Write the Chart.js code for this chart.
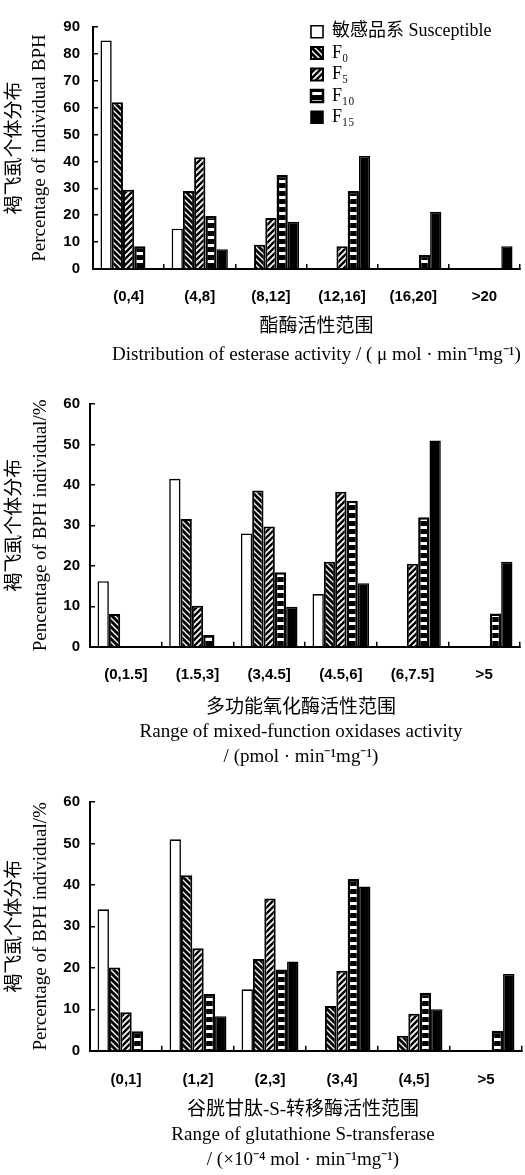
<!DOCTYPE html>
<html><head><meta charset="utf-8">
<script src="https://cdn.jsdelivr.net/npm/chart.js@4.4.0/dist/chart.umd.min.js"></script>
<style>
html,body{margin:0;padding:0;background:#fff;}
#wrap{position:relative;width:525px;height:1175px;background:#fff;}
canvas{position:absolute;left:0;}
</style></head><body>
<div id="wrap">
<canvas id="c1" width="525" height="378" style="top:0px"></canvas>
<canvas id="c2" width="525" height="400" style="top:378px"></canvas>
<canvas id="c3" width="525" height="397" style="top:778px"></canvas>
</div>
<script>
// ---------- data ----------
const seriesNames = ['敏感品系 Susceptible', 'F₀', 'F₅', 'F₁₀', 'F₁₅'];

// Chart 1: esterase
const estCategories = ['(0,4]', '(4,8]', '(8,12]', '(12,16]', '(16,20]', '>20'];
const estSusceptible = [85, 15, 0, 0, 0, 0];
const estF0  = [62, 29, 9, 0, 0, 0];
const estF5  = [29.5, 41.6, 19, 8.5, 0, 0];
const estF10 = [8.5, 19.7, 35, 29, 5.3, 0];
const estF15 = [0, 7.3, 17.6, 42, 21.3, 8.5];
const estYMax = 90;
const estYTitle = ['褐飞虱个体分布', 'Percentage of individual BPH'];
const estXTitle = ['酯酶活性范围', 'Distribution of esterase activity / ( μ mol · min⁻¹mg⁻¹)'];

// Chart 2: mixed-function oxidases
const mfoCategories = ['(0,1.5]', '(1.5,3]', '(3,4.5]', '(4.5,6]', '(6,7.5]', '>5'];
const mfoSusceptible = [16.2, 41.5, 28, 13, 0, 0];
const mfoF0  = [8.1, 31.6, 38.6, 21, 0, 0];
const mfoF5  = [0, 10.1, 29.7, 38.3, 20.5, 0];
const mfoF10 = [0, 2.9, 18.4, 36.1, 32, 8.2];
const mfoF15 = [0, 0, 9.9, 15.7, 51, 21];
const mfoYMax = 60;
const mfoYTitle = ['褐飞虱个体分布', 'Pencentage of BPH individual/%'];
const mfoXTitle = ['多功能氧化酶活性范围', 'Range of mixed-function oxidases activity', '/ (pmol · min⁻¹mg⁻¹)'];

// Chart 3: glutathione S-transferase
const gstCategories = ['(0,1]', '(1,2]', '(2,3]', '(3,4]', '(4,5]', '>5'];
const gstSusceptible = [34.1, 51, 14.8, 0, 0, 0];
const gstF0  = [20.1, 42.3, 22.1, 10.8, 3.6, 0];
const gstF5  = [9.3, 24.7, 36.7, 19.3, 8.9, 0];
const gstF10 = [4.7, 13.7, 19.6, 41.4, 14, 4.8];
const gstF15 = [0, 8.3, 21.5, 39.6, 10, 18.5];
const gstYMax = 60;
const gstYTitle = ['褐飞虱个体分布', 'Percentage of BPH individual/%'];
const gstXTitle = ['谷胱甘肽-S-转移酶活性范围', 'Range of glutathione S-transferase', '/ (×10⁻⁴ mol · min⁻¹mg⁻¹)'];

// ---------- styling ----------
const SERIF = '"Liberation Serif", "Noto Sans CJK SC", serif';
const SANS = '"Liberation Sans", Arial, sans-serif';
const TITLE_SIZE = 19;

function makePattern(ctx, type) {
  const c = document.createElement('canvas');
  const g = c.getContext('2d');
  if (type === 'back' || type === 'fwd') {
    const s = 6;
    c.width = s; c.height = s;
    g.fillStyle = '#fff'; g.fillRect(0, 0, s, s);
    g.strokeStyle = '#000';
    g.lineWidth = type === 'back' ? 2.9 : 2.5;
    g.beginPath();
    for (const k of [-s, 0, s]) {
      if (type === 'back') { g.moveTo(k - 1, -1); g.lineTo(k + s + 1, s + 1); }
      else { g.moveTo(k - 1, s + 1); g.lineTo(k + s + 1, -1); }
    }
    g.stroke();
  } else {
    c.width = 4; c.height = 8;
    g.fillStyle = '#000'; g.fillRect(0, 0, 4, 8);
    g.fillStyle = '#fff'; g.fillRect(0, 4, 4, 3);
  }
  return ctx.createPattern(c, 'repeat');
}

const legendMover = {
  id: 'legendMover',
  afterLayout(chart) {
    const lg = chart.legend;
    if (!lg || !chart.options.plugins.legend.display) return;
    lg.left = 307.6; lg.top = 19.3; lg.right = 525; lg.bottom = 160;
  }
};

// shifts the x-axis title horizontally (chart 1 title sits a little right of centre)
const titleShift = {
  id: 'titleShift',
  beforeDraw(chart, args, opts) {
    const dx = opts.dx || 0;
    if (!dx) return;
    const x = chart.scales.x;
    const orig = x.drawTitle.bind(x);
    if (!x._shifted) {
      x._shifted = true;
      x.drawTitle = function () {
        const c = this.ctx; c.save(); c.translate(dx, 0); orig(); c.restore();
      };
    }
  }
};

function buildChart(id, cats, series, yMax, yTitle, xTitle, geo, showLegend) {
  const canvas = document.getElementById(id);
  const ctx = canvas.getContext('2d');
  const pBack = makePattern(ctx, 'back');
  const pFwd = makePattern(ctx, 'fwd');
  const pHor = makePattern(ctx, 'hor');
  const fills = ['#ffffff', pBack, pFwd, pHor, '#000000'];
  const bws = [1.6, 2, 2, 2.5, 1.5];
  const datasets = series.map((d, i) => ({
    label: seriesNames[i],
    data: d,
    backgroundColor: fills[i],
    borderColor: '#000',
    borderWidth: bws[i],
    categoryPercentage: 0.79,
    barPercentage: 1.0
  }));
  return new Chart(ctx, {
    type: 'bar',
    data: { labels: cats, datasets },
    plugins: [legendMover, titleShift],
    options: {
      responsive: false,
      animation: false,
      devicePixelRatio: 1,
      layout: { padding: { left: 0, right: 525 - geo.right, top: geo.top, bottom: 0 } },
      plugins: {
        tooltip: { enabled: false },
        titleShift: { dx: geo.titleDx || 0 },
        legend: {
          display: showLegend,
          position: 'chartArea',
          align: 'start',
          labels: {
            boxWidth: 12, boxHeight: 12, padding: 3.4,
            color: '#000',
            font: { family: SERIF, size: 18, lineHeight: 1.0 }
          }
        }
      },
      scales: {
        x: {
          offset: true,
          afterFit(s) { s.height = geo.h - geo.bottom; },
          grid: { display: true, offset: true, drawOnChartArea: false, drawTicks: true, tickLength: -5, color: '#000', lineWidth: 1.5 },
          border: { display: true, color: '#000', width: 2 },
          ticks: { color: '#000', padding: geo.xTickPad, font: { family: SANS, size: 15, weight: 'bold', lineHeight: 1.2 }, maxRotation: 0, autoSkip: false },
          title: { display: true, text: xTitle, color: '#000', padding: { top: 0, bottom: geo.xTitlePb }, font: { family: SERIF, size: TITLE_SIZE, lineHeight: geo.xTitleLh / TITLE_SIZE } }
        },
        y: {
          min: 0, max: yMax,
          afterFit(s) { s.width = geo.left; },
          grid: { display: true, drawOnChartArea: false, drawTicks: true, tickLength: -5, color: '#000', lineWidth: 1.5 },
          border: { display: true, color: '#000', width: 2 },
          ticks: { stepSize: 10, color: '#000', padding: geo.yTickPad, font: { family: SANS, size: 15, weight: 'bold' } },
          title: { display: true, text: yTitle, color: '#000', padding: { top: geo.yTitlePt, bottom: 0 }, font: { family: SERIF, size: TITLE_SIZE, lineHeight: geo.yTitleLh / TITLE_SIZE } }
        }
      }
    }
  });
}

function init() {
  buildChart('c1', estCategories, [estSusceptible, estF0, estF5, estF10, estF15], estYMax, estYTitle, estXTitle,
    { h: 378, left: 93, right: 520, top: 15, bottom: 269, xTickPad: 24, xTitlePb: 9, xTitleLh: 28, yTitlePt: 2.5, yTitleLh: 25, yTickPad: 18, titleDx: 10 }, true);
  buildChart('c2', mfoCategories, [mfoSusceptible, mfoF0, mfoF5, mfoF10, mfoF15], mfoYMax, mfoYTitle, mfoXTitle,
    { h: 400, left: 90, right: 520, top: 26, bottom: 268.7, xTickPad: 24.3, xTitlePb: 8.75, xTitleLh: 24.5, yTitlePt: 2, yTitleLh: 26, yTickPad: 15, titleDx: -4 }, false);
  buildChart('c3', gstCategories, [gstSusceptible, gstF0, gstF5, gstF10, gstF15], gstYMax, gstYTitle, gstXTitle,
    { h: 397, left: 90, right: 522, top: 22, bottom: 272.7, xTickPad: 25.3, xTitlePb: 2.5, xTitleLh: 25, yTitlePt: 2, yTitleLh: 26, yTickPad: 15, titleDx: -3 }, false);
}

if (document.fonts && document.fonts.load) {
  Promise.all([
    document.fonts.load('19px "Liberation Serif"'),
    document.fonts.load('19px "Noto Sans CJK SC"', '褐飞虱'),
    document.fonts.load('bold 15px "Liberation Sans"')
  ]).then(init, init);
} else { init(); }
</script>
</body></html>
